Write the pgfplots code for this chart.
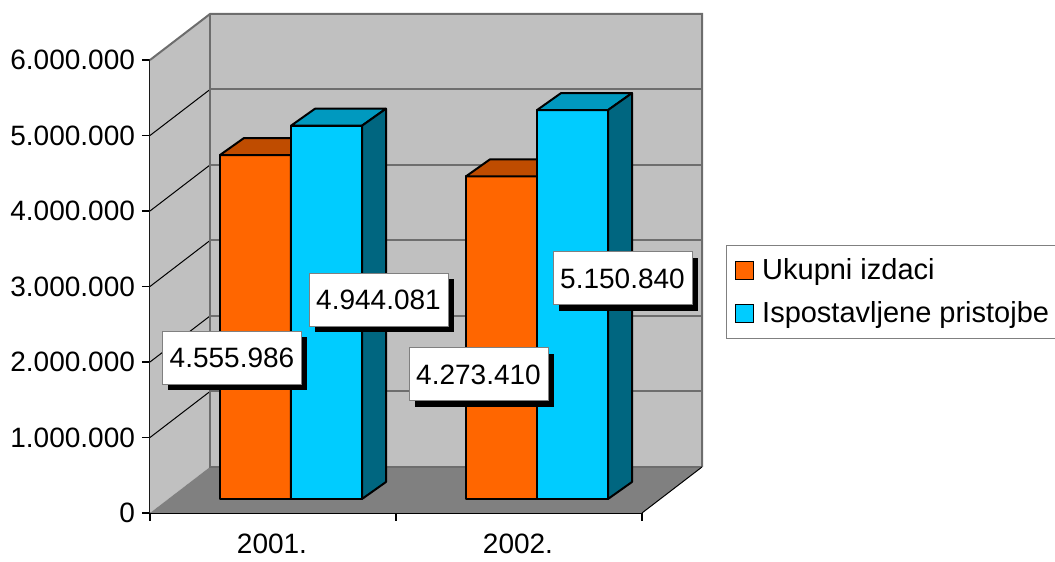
\documentclass[border=0pt]{standalone}
\usepackage{pgfplots}
\pgfplotsset{compat=1.18}
\usepackage{fontspec}
\setmainfont{Liberation Sans}
\usetikzlibrary{shadows}
\definecolor{orF}{HTML}{FF6600}
\definecolor{orT}{HTML}{BF4C00}
\definecolor{orS}{HTML}{994000}
\definecolor{blF}{HTML}{00CCFF}
\definecolor{blT}{HTML}{0099BF}
\definecolor{blS}{HTML}{006680}
\definecolor{wall}{HTML}{C0C0C0}
\definecolor{floorc}{HTML}{808080}
\definecolor{gridc}{HTML}{6E6E6E}
\pgfplotsset{cub/.style={draw=black, line width=1pt, line join=round, forget plot}}
\begin{document}
\begin{tikzpicture}[
  lbl/.style={fill=white, draw=gray, line width=0.5pt, minimum width=69.5pt, minimum height=26.5pt, inner sep=0pt,
    font=\fontsize{14}{16}\selectfont, general shadow={fill=black, shadow xshift=3pt, shadow yshift=-3pt}}]
\begin{axis}[
  scale only axis, width=246pt, height=226.5pt,
  xmin=150, xmax=642, ymin=0, ymax=6000000,
  clip=false,
  axis x line*=bottom, axis y line*=left,
  axis line style={-, black, line width=0.6pt},
  tick style={black, line width=0.6pt},
  tick align=outside, major tick length=4pt,
  xtick={150,396,642}, xticklabels={},
  extra x ticks={272,518}, extra x tick labels={2001.,2002.},
  extra x tick style={tickwidth=0pt, xticklabel style={yshift=-7pt}},
  ytick={0,1000000,2000000,3000000,4000000,5000000,6000000},
  yticklabels={0,1.000.000,2.000.000,3.000.000,4.000.000,5.000.000,6.000.000},
  scaled y ticks=false,
  ticklabel style={font=\fontsize{14}{16}\selectfont},
  legend style={at={(1.1707,0.5916)}, anchor=north west, draw=gray, line width=0.6pt,
    font=\fontsize{14.5}{17}\selectfont, row sep=5.5pt, inner xsep=4pt, inner ysep=4.5pt},
  legend cell align=left,
  legend image code/.code={\draw[#1, draw=black, line width=0.6pt] (0pt,-4.5pt) rectangle (9pt,4.5pt);
    \path[draw=none, fill=none] (0pt,0pt) -- (11.5pt,0pt);},
]
\addlegendimage{fill=orF}
\addlegendentry{Ukupni izdaci}
\addlegendimage{fill=blF}
\addlegendentry{Ispostavljene pristojbe}

% walls and floor
\fill[wall] (axis cs:150,0) -- (axis cs:150,6000000) -- (axis cs:210,6609271) -- (axis cs:210,609271) -- cycle;
\fill[wall] (axis cs:210,609271) rectangle (axis cs:702,6609271);
\fill[floorc] (axis cs:150,0) -- (axis cs:642,0) -- (axis cs:702,609271) -- (axis cs:210,609271) -- cycle;
\draw[gridc, line width=1pt] (axis cs:210,1609271) -- (axis cs:702,1609271);
\draw[gridc, line width=1pt] (axis cs:210,2609271) -- (axis cs:702,2609271);
\draw[gridc, line width=1pt] (axis cs:210,3609271) -- (axis cs:702,3609271);
\draw[gridc, line width=1pt] (axis cs:210,4609271) -- (axis cs:702,4609271);
\draw[gridc, line width=1pt] (axis cs:210,5609271) -- (axis cs:702,5609271);
\draw[black, line width=0.5pt] (axis cs:150,1000000) -- (axis cs:210,1609271);
\draw[black, line width=0.5pt] (axis cs:150,2000000) -- (axis cs:210,2609271);
\draw[black, line width=0.5pt] (axis cs:150,3000000) -- (axis cs:210,3609271);
\draw[black, line width=0.5pt] (axis cs:150,4000000) -- (axis cs:210,4609271);
\draw[black, line width=0.5pt] (axis cs:150,5000000) -- (axis cs:210,5609271);
\draw[floorc!85!black, line width=1pt] (axis cs:150,6000000) -- (axis cs:210,6609271) -- (axis cs:702,6609271) -- (axis cs:702,609271);
\draw[floorc!85!black, line width=1pt] (axis cs:210,6609271) -- (axis cs:210,609271) -- (axis cs:702,609271);
\draw[black, line width=0.5pt] (axis cs:642,0) -- (axis cs:702,609271);

% 2001 Ukupni izdaci
\addplot[cub, fill=orF, yshift=7pt] coordinates {(220,0) (220,4555986) (291,4555986) (291,0)} -- cycle;
\addplot[cub, fill=orT, yshift=7pt] coordinates {(220,4555986) (291,4555986) (315,4781152) (244,4781152)} -- cycle;
\addplot[cub, fill=orS, yshift=7pt] coordinates {(291,0) (291,4555986) (315,4781152) (315,225166)} -- cycle;
% 2001 Ispostavljene pristojbe
\addplot[cub, fill=blF, yshift=7pt] coordinates {(291,0) (291,4944081) (362,4944081) (362,0)} -- cycle;
\addplot[cub, fill=blT, yshift=7pt] coordinates {(291,4944081) (362,4944081) (386,5169247) (315,5169247)} -- cycle;
\addplot[cub, fill=blS, yshift=7pt] coordinates {(362,0) (362,4944081) (386,5169247) (386,225166)} -- cycle;
% 2002 Ukupni izdaci
\addplot[cub, fill=orF, yshift=7pt] coordinates {(466,0) (466,4273410) (537,4273410) (537,0)} -- cycle;
\addplot[cub, fill=orT, yshift=7pt] coordinates {(466,4273410) (537,4273410) (561,4498576) (490,4498576)} -- cycle;
\addplot[cub, fill=orS, yshift=7pt] coordinates {(537,0) (537,4273410) (561,4498576) (561,225166)} -- cycle;
% 2002 Ispostavljene pristojbe
\addplot[cub, fill=blF, yshift=7pt] coordinates {(537,0) (537,5150840) (608,5150840) (608,0)} -- cycle;
\addplot[cub, fill=blT, yshift=7pt] coordinates {(537,5150840) (608,5150840) (632,5376006) (561,5376006)} -- cycle;
\addplot[cub, fill=blS, yshift=7pt] coordinates {(608,0) (608,5150840) (632,5376006) (632,225166)} -- cycle;

% data labels
\node[lbl] at (axis cs:232,2052980) {4.555.986};
\node[lbl] at (axis cs:378.5,2821191) {4.944.081};
\node[lbl] at (axis cs:478.5,1834437) {4.273.410};
\node[lbl] at (axis cs:622.5,3105960) {5.150.840};

\coordinate (BL) at (axis cs:0,-649007);
\coordinate (TR) at (axis cs:1055,6794700);
\end{axis}
\pgfresetboundingbox
\path[use as bounding box] (BL) rectangle (TR);
\end{tikzpicture}
\end{document}
